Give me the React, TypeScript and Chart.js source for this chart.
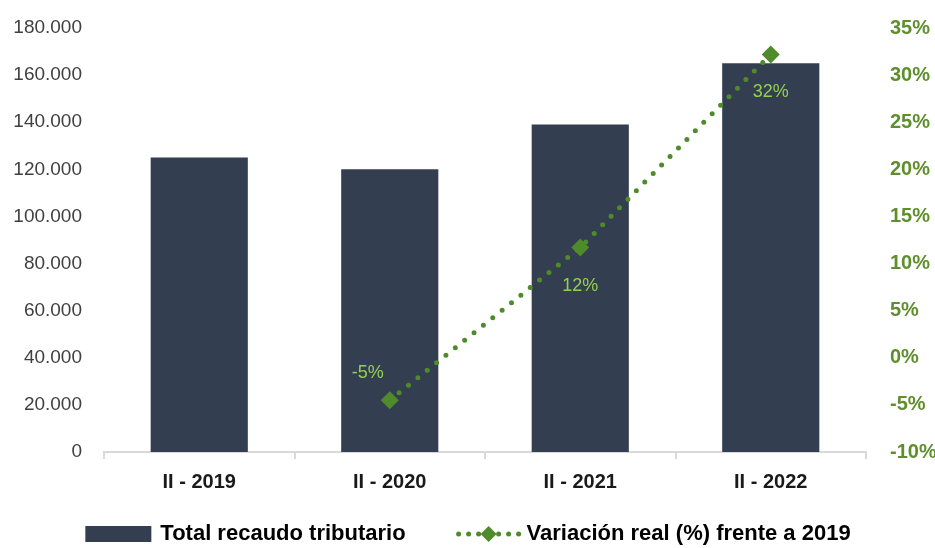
import React, { useEffect, useRef } from "react";
import { Chart, registerables } from "chart.js";

Chart.register(...registerables);

const categories = ["II - 2019", "II - 2020", "II - 2021", "II - 2022"];
const recaudoValues = [125000, 120000, 139000, 165000];
const variacionValues: (number | null)[] = [null, -4.5, 11.7, 32.2];
const variacionLabels = ["", "-5%", "12%", "32%"];
const seriesNames = ["Total recaudo tributario", "Variación real (%) frente a 2019"];

const FONT = "'Liberation Sans', Arial, sans-serif";
const BAR_COLOR = "#333F50";
const LINE_COLOR = "#4F8A2B";
const LABEL_COLOR = "#92D050";
const RIGHT_TICK_COLOR = "#5E8F2C";

function fmtThousands(v: number) {
  return Math.round(v).toString().replace(/\B(?=(\d{3})+(?!\d))/g, ".");
}

function drawDiamond(g: CanvasRenderingContext2D, cx: number, cy: number, r: number) {
  g.beginPath();
  g.moveTo(cx, cy - r);
  g.lineTo(cx + r, cy);
  g.lineTo(cx, cy + r);
  g.lineTo(cx - r, cy);
  g.closePath();
  g.fill();
}

const pointLabelPlugin = {
  id: "pointLabels",
  afterDatasetsDraw(chart: any) {
    const meta = chart.getDatasetMeta(1);
    const ctx = chart.ctx;
    ctx.save();
    ctx.font = "18px " + FONT;
    ctx.fillStyle = LABEL_COLOR;
    ctx.textAlign = "center";
    ctx.textBaseline = "middle";
    meta.data.forEach((pt: any, i: number) => {
      const txt = variacionLabels[i];
      if (!txt || variacionValues[i] == null) return;
      if (i === 1) ctx.fillText(txt, pt.x - 22, pt.y - 27);
      else ctx.fillText(txt, pt.x, pt.y + 38);
    });
    ctx.restore();
  },
};

const customLegendPlugin = {
  id: "customLegend",
  afterDraw(chart: any) {
    const ctx = chart.ctx;
    const area = chart.chartArea;
    ctx.save();
    ctx.font = "bold 22px " + FONT;
    ctx.textBaseline = "middle";
    ctx.textAlign = "left";
    const t1 = ctx.measureText(seriesNames[0]).width;
    const t2 = ctx.measureText(seriesNames[1]).width;
    const boxW = 66, gap1 = 9, between = 51, symW = 64, gap2 = 6;
    const total = boxW + gap1 + t1 + between + symW + gap2 + t2;
    const cy = 534;
    let x = (area.left + area.right) / 2 - 17 - total / 2;
    ctx.fillStyle = BAR_COLOR;
    ctx.fillRect(x, cy - 8, boxW, 16);
    x += boxW + gap1;
    ctx.fillStyle = "#000000";
    ctx.fillText(seriesNames[0], x, cy);
    x += t1 + between;
    ctx.fillStyle = LINE_COLOR;
    const c = x + symW / 2;
    [-30, -20, -10, 10, 20, 30].forEach((dx) => {
      ctx.beginPath();
      ctx.arc(c + dx, cy, 2.5, 0, Math.PI * 2);
      ctx.fill();
    });
    drawDiamond(ctx, c, cy, 8);
    x += symW + gap2;
    ctx.fillStyle = "#000000";
    ctx.fillText(seriesNames[1], x, cy);
    ctx.restore();
  },
};

export default function App() {
  const ref = useRef<HTMLCanvasElement>(null);
  useEffect(() => {
    if (!ref.current) return;
    const chart = new Chart(ref.current, {
      type: "bar",
      data: {
        labels: categories,
        datasets: [
          {
            type: "bar",
            label: seriesNames[0],
            data: recaudoValues,
            backgroundColor: BAR_COLOR,
            barPercentage: 0.51,
            categoryPercentage: 1,
            yAxisID: "y",
            order: 1,
          },
          {
            type: "line",
            label: seriesNames[1],
            data: variacionValues,
            borderColor: LINE_COLOR,
            backgroundColor: LINE_COLOR,
            borderWidth: 5,
            borderDash: [0, 12],
            borderCapStyle: "round",
            pointStyle: "rectRot",
            pointRadius: 9,
            pointBorderWidth: 0,
            spanGaps: false,
            yAxisID: "y1",
            order: 0,
          } as any,
        ],
      },
      options: {
        animation: false,
        responsive: false,
        maintainAspectRatio: false,
        layout: { autoPadding: false, padding: { top: 28, bottom: 43, left: 0, right: 0 } },
        plugins: {
          tooltip: { enabled: false },
          legend: { display: false },
        },
        scales: {
          x: {
            offset: true,
            grid: {
              display: true,
              drawOnChartArea: false,
              drawTicks: true,
              tickLength: 7,
              offset: true,
              color: "#D9D9D9",
              lineWidth: 2,
            },
            border: { display: true, color: "#D9D9D9", width: 2 },
            ticks: {
              color: "#1A1A1A",
              padding: 11,
              font: { family: FONT, size: 20, weight: "bold" },
            },
          },
          y: {
            position: "left",
            min: 0,
            max: 180000,
            grid: { display: false, drawTicks: false },
            border: { display: false },
            ticks: {
              stepSize: 20000,
              padding: 22,
              color: "#404040",
              font: { family: FONT, size: 19 },
              callback: (v: any) => fmtThousands(Number(v)),
            },
            afterFit: (s: any) => {
              s.width = 104;
              s.paddingTop = 0;
              s.paddingBottom = 0;
            },
          },
          y1: {
            position: "right",
            min: -10,
            max: 35,
            grid: { display: false, drawTicks: false },
            border: { display: false },
            ticks: {
              stepSize: 5,
              padding: 24,
              color: RIGHT_TICK_COLOR,
              font: { family: FONT, size: 20, weight: "bold" },
              callback: (v: any) => v + "%",
            },
            afterFit: (s: any) => {
              s.width = 69;
              s.paddingTop = 0;
              s.paddingBottom = 0;
            },
          },
        },
      },
      plugins: [pointLabelPlugin, customLegendPlugin],
    });
    return () => chart.destroy();
  }, []);
  return (
    <div style={{ position: "fixed", left: 0, top: 0, width: 935, height: 548, background: "#fff" }}>
      <canvas ref={ref} width={935} height={548} style={{ width: 935, height: 548 }} />
    </div>
  );
}
